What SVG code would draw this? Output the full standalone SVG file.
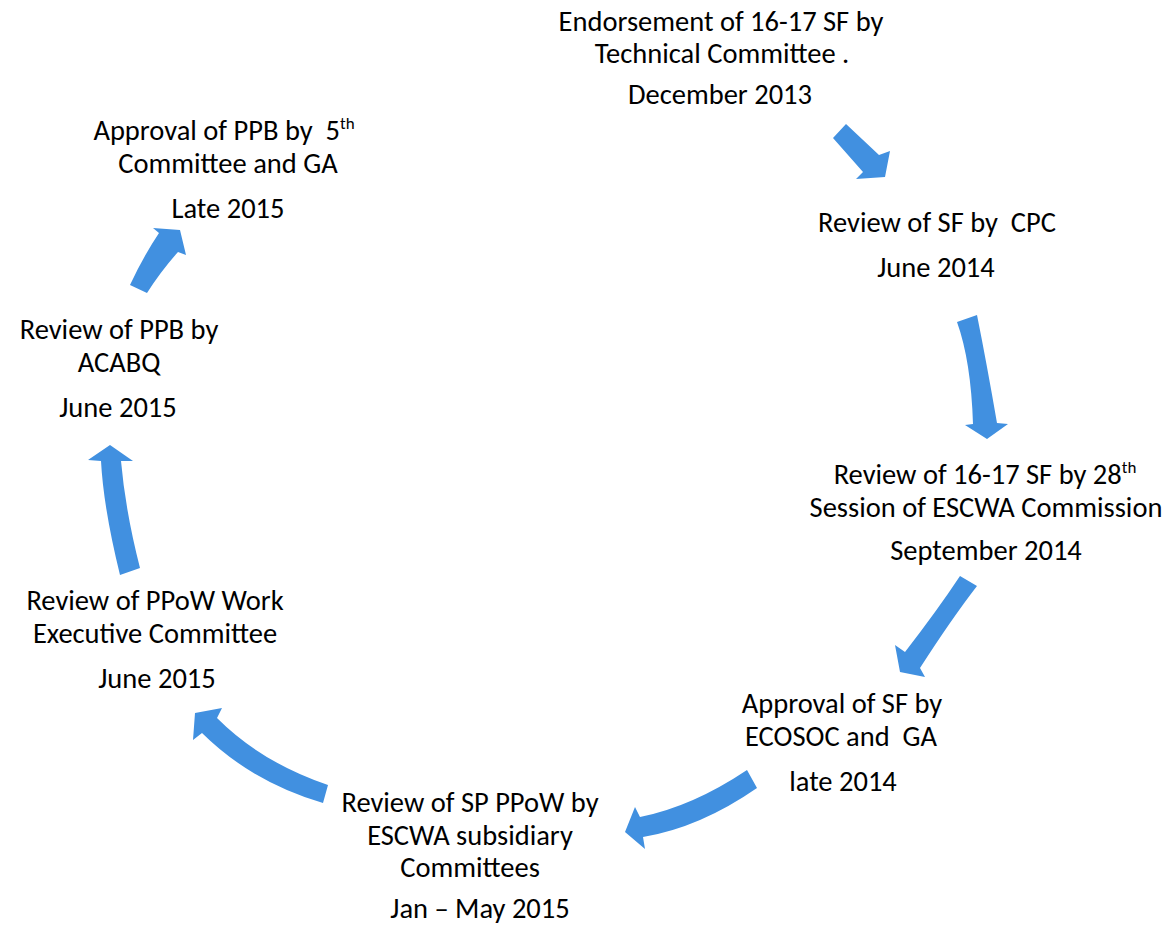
<svg xmlns="http://www.w3.org/2000/svg" width="1173" height="926" viewBox="0 0 1173 926">
<style>
text{font-family:Carlito,Lato,"Liberation Sans",sans-serif;font-size:28.5px;fill:#000;text-anchor:middle;white-space:pre}
.sup{font-size:17px}
.arrow{fill:#4190E0}
</style>
<rect width="1173" height="926" fill="#fff"/>
<g id="n1"><text x="721" y="31">Endorsement of 16-17 SF by</text><text x="722" y="63">Technical Committee .</text><text x="720" y="104">December 2013</text></g>
<g id="n2"><text x="937" y="232">Review of SF by  CPC</text><text x="936" y="277">June 2014</text></g>
<g id="n3"><text x="985" y="484">Review of 16-17 SF by 28<tspan class="sup" dy="-11">th</tspan></text><text x="986" y="517">Session of ESCWA Commission</text><text x="986" y="560">September 2014</text></g>
<g id="n4"><text x="842" y="713">Approval of SF by</text><text x="841" y="746">ECOSOC and  GA</text><text x="843" y="791">late 2014</text></g>
<g id="n5"><text x="470" y="812">Review of SP PPoW by</text><text x="470" y="845">ESCWA subsidiary</text><text x="470" y="877">Committees</text><text x="480" y="918">Jan – May 2015</text></g>
<g id="n6"><text x="155" y="610">Review of PPoW Work</text><text x="155" y="643">Executive Committee</text><text x="157" y="688">June 2015</text></g>
<g id="n7"><text x="119" y="339">Review of PPB by</text><text x="119" y="372">ACABQ</text><text x="118" y="417">June 2015</text></g>
<g id="n8"><text x="224" y="140">Approval of PPB by  5<tspan class="sup" dy="-11">th</tspan></text><text x="228" y="173">Committee and GA</text><text x="228" y="218">Late 2015</text></g>
<g id="connectors">
<path class="arrow" d="M833,138 L846,124 L879,155 L890,151 L885,177 L856,179 L863,172 Z"/>
<path class="arrow" d="M957,322 Q971,361 973,424 L965,425 L987,439 L1008,424 L997,423 Q987,365 977,315 Z"/>
<path class="arrow" d="M960,576 Q937.5,610 905,652 L895,645 L900,672 L925,677 L920,668 Q951.5,619 977,586 Z"/>
<path class="arrow" d="M747,770 Q692.5,806.5 640,817 L635,807 L625,832 L645,849 L643,837 Q700,827.5 757,788 Z"/>
<path class="arrow" d="M328,785 Q261.5,762.5 217,718 L222,708 L195,713 L193,740 L202,733 Q251.5,782 323,803 Z"/>
<path class="arrow" d="M120,575 Q103.5,508 101,461 L88,460 L110,445 L133,461 L121,461 Q125.5,511.5 140,568 Z"/>
<path class="arrow" d="M130,285 Q143,257 159,233 L153,228 L180,230 L186,255 L178,252 Q161,271 147,293 Z"/>
</g>
</svg>
